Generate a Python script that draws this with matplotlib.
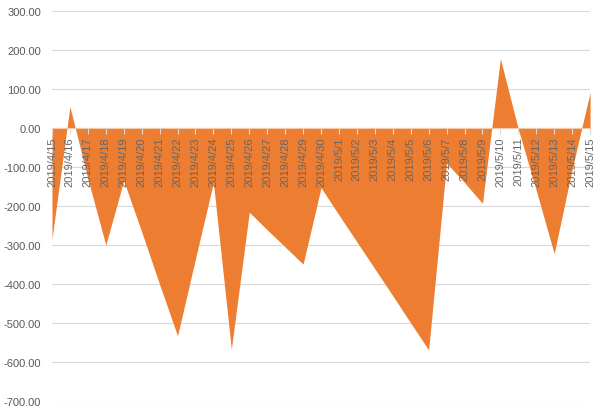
import matplotlib.pyplot as plt
import numpy as np

# categories (dates) and values
dates = ["2019/4/%d" % d for d in range(15, 31)] + ["2019/5/%d" % d for d in range(1, 16)]
values = [-285, 55, -130, -300, -135, -266, -401, -533, -335, -140,
          -567, -216, -261, -305, -349, -153, -223, -292, -361, -430,
          -500, -569, -90, -140, -193, 178, -3, -160, -322, -106, 91]
yticks = [300, 200, 100, 0, -100, -200, -300, -400, -500, -600, -700]

plt.rcParams['font.family'] = ['Liberation Sans', 'DejaVu Sans']

fig = plt.figure(figsize=(6.08, 4.14), dpi=100)
ax = fig.add_axes([0.0855, 0.029, 0.885, 0.942])

x = np.arange(len(dates))
ax.fill_between(x, values, 0, color="#ED7D31", linewidth=0, zorder=1)

# gridlines behind the area
for yv in yticks:
    ax.axhline(yv, color="#D9D9D9", linewidth=0.8, zorder=0)

ax.set_xlim(0, len(dates) - 1)
ax.set_ylim(-700, 300)
ax.set_yticks(yticks)
ax.set_yticklabels(["%.2f" % v for v in yticks])
ax.tick_params(axis='y', length=0, pad=8, labelsize=8, labelcolor="#595959")

ax.set_xticks(x)
ax.set_xticklabels(dates)
ax.tick_params(axis='x', length=4, color="#D9D9D9", pad=2, direction='out',
               labelrotation=90, labelsize=8, labelcolor="#666666")
ax.xaxis.set_zorder(3)

for s in ['top', 'right', 'left']:
    ax.spines[s].set_visible(False)
ax.spines['bottom'].set_position(('data', 0))
ax.spines['bottom'].set_color("#F2C9A8")
ax.spines['bottom'].set_zorder(3)

fig.savefig("out.png", dpi=100)
